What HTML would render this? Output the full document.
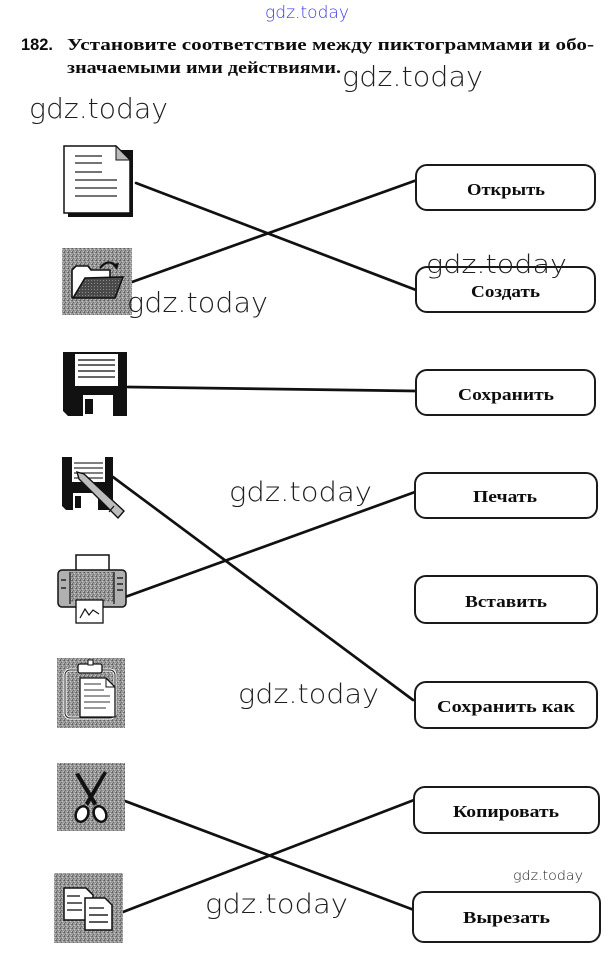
<!DOCTYPE html>
<html><head><meta charset="utf-8"><style>
html,body{margin:0;padding:0;background:#fff;}
svg{display:block;}
.wm{font-family:"DejaVu Sans","Liberation Sans",sans-serif;font-weight:200;fill:#1e1e1e;}
.lb{font-family:"Liberation Serif","DejaVu Serif",serif;font-weight:bold;font-size:17px;fill:#0d0d0d;}
</style></head><body>
<svg width="612" height="962" viewBox="0 0 612 962" xmlns="http://www.w3.org/2000/svg">
<defs>
<pattern id="gr" width="4" height="4" patternUnits="userSpaceOnUse">
<rect width="4" height="4" fill="#9a9a9a"/>
<rect x="0" y="0" width="1" height="1" fill="#5a5a5a"/>
<rect x="2" y="1" width="1" height="1" fill="#cacaca"/>
<rect x="1" y="2" width="1" height="1" fill="#6a6a6a"/>
<rect x="3" y="3" width="1" height="1" fill="#c0c0c0"/>
<rect x="3" y="0" width="1" height="1" fill="#7a7a7a"/>
<rect x="0" y="3" width="1" height="1" fill="#777"/>
</pattern>
<pattern id="dk" width="3" height="3" patternUnits="userSpaceOnUse">
<rect width="3" height="3" fill="#4a4a4a"/>
<rect x="1" y="1" width="1" height="1" fill="#8a8a8a"/>
</pattern>
</defs>

<!-- header -->
<text x="265" y="18" font-family="DejaVu Sans, Liberation Sans, sans-serif" font-weight="200" font-size="17" fill="#3b3be0" textLength="84" lengthAdjust="spacingAndGlyphs">gdz.today</text>
<text x="21" y="50" font-family="Liberation Sans, sans-serif" font-weight="bold" font-size="17" fill="#0d0d0d" textLength="32" lengthAdjust="spacingAndGlyphs">182.</text>
<text x="67" y="50" font-family="Liberation Serif, serif" font-weight="bold" font-size="16.5" fill="#0d0d0d" textLength="527" lengthAdjust="spacingAndGlyphs">Установите соответствие между пиктограммами и обо-</text>
<text x="67" y="73" font-family="Liberation Serif, serif" font-weight="bold" font-size="16.5" fill="#0d0d0d" textLength="274" lengthAdjust="spacingAndGlyphs">значаемыми ими действиями.</text>
<text class="wm" x="342" y="86" font-size="28" textLength="141" lengthAdjust="spacingAndGlyphs">gdz.today</text>
<text class="wm" x="29" y="118" font-size="28" textLength="139" lengthAdjust="spacingAndGlyphs">gdz.today</text>

<!-- connectors -->
<g stroke="#111" stroke-width="2.7" stroke-linecap="round" fill="none">
<line x1="136" y1="183" x2="416" y2="290"/>
<line x1="132" y1="282" x2="417" y2="180"/>
<line x1="128" y1="387" x2="416" y2="391"/>
<line x1="113" y1="477" x2="413" y2="700"/>
<line x1="125" y1="597" x2="415" y2="492"/>
<line x1="125" y1="801" x2="414" y2="910"/>
<line x1="123" y1="912" x2="414" y2="800"/>
</g>

<!-- boxes -->
<g fill="#fff" stroke="#1a1a1a" stroke-width="2">
<rect x="416" y="165" width="179" height="45" rx="11"/>
<rect x="416" y="267" width="179" height="45" rx="11"/>
<rect x="416" y="370" width="179" height="45" rx="11"/>
<rect x="415" y="473" width="182" height="45" rx="11"/>
<rect x="415" y="576" width="182" height="47" rx="11"/>
<rect x="415" y="682" width="182" height="46" rx="11"/>
<rect x="414" y="787" width="185" height="46" rx="11"/>
<rect x="413" y="892" width="187" height="50" rx="11"/>
</g>
<text class="lb" x="467" y="195" textLength="78" lengthAdjust="spacingAndGlyphs">Открыть</text>
<text class="lb" x="471" y="297" textLength="69" lengthAdjust="spacingAndGlyphs">Создать</text>
<text class="lb" x="458" y="400" textLength="96" lengthAdjust="spacingAndGlyphs">Сохранить</text>
<text class="lb" x="473" y="502" textLength="64" lengthAdjust="spacingAndGlyphs">Печать</text>
<text class="lb" x="465" y="607" textLength="82" lengthAdjust="spacingAndGlyphs">Вставить</text>
<text class="lb" x="437" y="712" textLength="138" lengthAdjust="spacingAndGlyphs">Сохранить как</text>
<text class="lb" x="453" y="817" textLength="106" lengthAdjust="spacingAndGlyphs">Копировать</text>
<text class="lb" x="463" y="923" textLength="87" lengthAdjust="spacingAndGlyphs">Вырезать</text>

<!-- icon 1: document -->
<rect x="68" y="150" width="65" height="67" fill="#111"/>
<path d="M64,146 L116,146 L130,160 L130,213 L64,213 Z" fill="#fff" stroke="#111" stroke-width="1.5"/>
<path d="M116,146 L116,160 L130,160 Z" fill="#bbb" stroke="#111" stroke-width="1"/>
<g stroke="#222" stroke-width="1.3">
<line x1="75" y1="156" x2="102" y2="156"/>
<line x1="75" y1="163" x2="102" y2="163"/>
<line x1="75" y1="172" x2="102" y2="172"/>
<line x1="75" y1="180" x2="117" y2="180"/>
<line x1="75" y1="188" x2="117" y2="188"/>
<line x1="75" y1="196" x2="117" y2="196"/>
</g>

<!-- icon 2: folder open -->
<rect x="62" y="248" width="70" height="67" fill="url(#gr)"/>
<path d="M72,298 L72,270 L76,266 L88,266 L91,270 L110,270 L110,278" fill="#fff" stroke="#111" stroke-width="1.6"/>
<path d="M73,298 L85,278 L123,277 L115,298 Z" fill="url(#dk)" stroke="#111" stroke-width="1.6"/>
<path d="M100,268 Q108,258 116,266" fill="none" stroke="#111" stroke-width="2.2"/>
<path d="M112,264 L119,263 L117,270 Z" fill="#111"/>

<!-- icon 3: floppy -->
<path d="M63,352 H127 V416 H68 L63,411 Z" fill="#111"/>
<rect x="75" y="354" width="43" height="32" fill="#fff"/>
<g stroke="#333" stroke-width="1.4">
<line x1="78" y1="360" x2="115" y2="360"/>
<line x1="78" y1="365" x2="115" y2="365"/>
<line x1="78" y1="371" x2="115" y2="371"/>
<line x1="78" y1="377" x2="115" y2="377"/>
</g>
<rect x="83" y="395" width="30" height="21" fill="#fff"/>
<rect x="85" y="399" width="8" height="15" fill="#111"/>

<!-- icon 4: floppy with pencil -->
<path d="M62,457 H113 V510 H66 L62,506 Z" fill="#111"/>
<rect x="72" y="457" width="33" height="25" fill="#fff"/>
<g stroke="#333" stroke-width="1.3">
<line x1="74" y1="463" x2="103" y2="463"/>
<line x1="74" y1="468" x2="103" y2="468"/>
<line x1="74" y1="473" x2="103" y2="473"/>
<line x1="74" y1="478" x2="103" y2="478"/>
</g>
<rect x="73" y="493" width="25" height="17" fill="#fff"/>
<rect x="75" y="496" width="6" height="12" fill="#111"/>
<path d="M77,472 L84,474 L124,511 L118,518 L79,479 Z" fill="#bdbdbd" stroke="#111" stroke-width="1.4"/>
<line x1="114" y1="506" x2="109" y2="512" stroke="#111" stroke-width="1.2"/>

<!-- icon 5: printer -->
<rect x="76" y="555" width="33" height="18" fill="#fff" stroke="#111" stroke-width="1.5"/>
<rect x="58" y="570" width="68" height="37" rx="4" fill="#b0b0b0" stroke="#111" stroke-width="1.5"/>
<rect x="70" y="572" width="44" height="30" fill="url(#gr)"/>
<line x1="70" y1="572" x2="70" y2="604" stroke="#111" stroke-width="1.2"/>
<line x1="114" y1="572" x2="114" y2="604" stroke="#111" stroke-width="1.2"/>
<g stroke="#222" stroke-width="1.5">
<line x1="117" y1="578" x2="123" y2="578"/>
<line x1="117" y1="584" x2="123" y2="584"/>
<line x1="117" y1="590" x2="123" y2="590"/>
<line x1="61" y1="580" x2="66" y2="580"/>
<line x1="61" y1="588" x2="66" y2="588"/>
</g>
<rect x="76" y="600" width="27" height="23" fill="#fff" stroke="#111" stroke-width="1.3"/>
<path d="M80,618 L85,609 L89,615 L93,610 L99,614" fill="none" stroke="#111" stroke-width="1.2"/>

<!-- icon 6: clipboard -->
<rect x="57" y="658" width="68" height="70" fill="url(#gr)"/>
<rect x="65" y="670" width="50" height="48" rx="5" fill="none" stroke="#fff" stroke-width="3"/>
<rect x="65" y="670" width="50" height="48" rx="5" fill="none" stroke="#222" stroke-width="1"/>
<rect x="78" y="664" width="24" height="9" rx="2" fill="#fff" stroke="#111" stroke-width="1.3"/>
<rect x="88" y="660" width="5" height="5" fill="#fff" stroke="#111" stroke-width="1"/>
<path d="M80,678 L106,678 L115,687 L115,717 L80,717 Z" fill="#fff" stroke="#111" stroke-width="1.3"/>
<path d="M106,678 L106,687 L115,687" fill="none" stroke="#111" stroke-width="1"/>
<g stroke="#333" stroke-width="1.1">
<line x1="84" y1="684" x2="101" y2="684"/>
<line x1="84" y1="690" x2="104" y2="690"/>
<line x1="84" y1="696" x2="110" y2="696"/>
<line x1="84" y1="702" x2="110" y2="702"/>
<line x1="84" y1="708" x2="106" y2="708"/>
</g>

<!-- icon 7: scissors -->
<rect x="57" y="763" width="68" height="68" fill="url(#gr)"/>
<path d="M75,774 L79,773 L97,803 L94,806 Z" fill="#111"/>
<path d="M104,771 L107,773 L88,806 L85,803 Z" fill="#111"/>
<ellipse cx="82" cy="814" rx="6" ry="8" fill="#fff" stroke="#111" stroke-width="2.5" transform="rotate(25 82 814)"/>
<ellipse cx="100" cy="814" rx="6" ry="8" fill="#fff" stroke="#111" stroke-width="2.5" transform="rotate(-25 100 814)"/>

<!-- icon 8: copy -->
<rect x="54" y="873" width="69" height="70" fill="url(#gr)"/>
<path d="M64,888 L86,888 L93,895 L93,920 L64,920 Z" fill="#fff" stroke="#111" stroke-width="1.5"/>
<path d="M85,898 L105,898 L112,905 L112,930 L85,930 Z" fill="#fff" stroke="#111" stroke-width="1.5"/>
<g stroke="#222" stroke-width="1.4">
<line x1="67" y1="896" x2="80" y2="896"/>
<line x1="67" y1="903" x2="82" y2="903"/>
<line x1="67" y1="910" x2="82" y2="910"/>
<line x1="89" y1="908" x2="104" y2="908"/>
<line x1="89" y1="915" x2="108" y2="915"/>
<line x1="89" y1="922" x2="108" y2="922"/>
</g>

<!-- watermarks -->
<text class="wm" x="127" y="312" font-size="28" textLength="141" lengthAdjust="spacingAndGlyphs">gdz.today</text>
<text class="wm" x="426" y="273" font-size="26" textLength="141" lengthAdjust="spacingAndGlyphs">gdz.today</text>
<text class="wm" x="229" y="501" font-size="27" textLength="143" lengthAdjust="spacingAndGlyphs">gdz.today</text>
<text class="wm" x="238" y="703" font-size="27" textLength="141" lengthAdjust="spacingAndGlyphs">gdz.today</text>
<text class="wm" x="205" y="913" font-size="27" textLength="143" lengthAdjust="spacingAndGlyphs">gdz.today</text>
<text class="wm" x="513" y="880" font-size="13" textLength="70" lengthAdjust="spacingAndGlyphs">gdz.today</text>
</svg>
</body></html>
